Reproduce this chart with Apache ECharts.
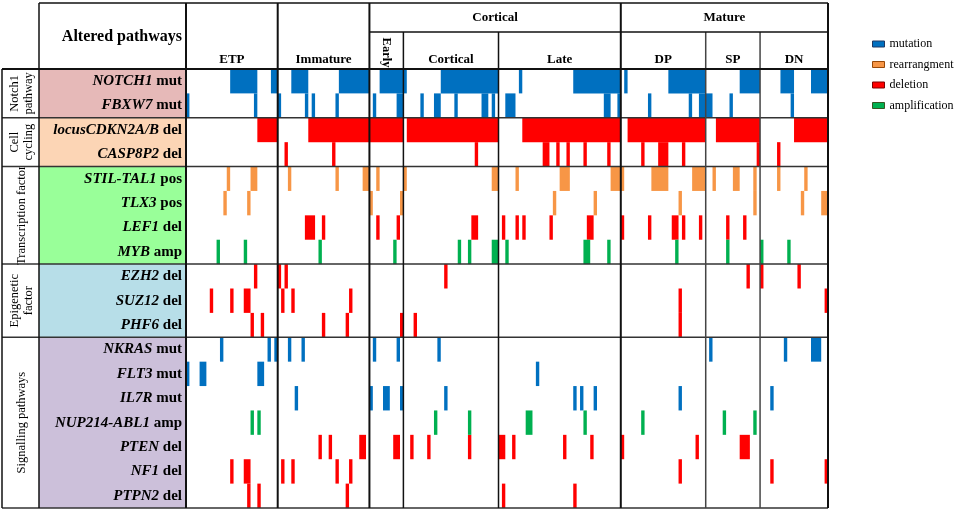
<!DOCTYPE html>
<html><head><meta charset="utf-8">
<script src="https://cdn.jsdelivr.net/npm/echarts@6/dist/echarts.min.js"></script>
<style>html,body{margin:0;padding:0;background:#fff}#c{width:957px;height:515px}</style>
</head><body><div id="c"></div><script>
// ---- categories ----
const subtypes = ['ETP','Immature','Early','Cortical','Late','DP','SP','DN'];
const subtypeSizes = [27,27,10,28,36,25,16,20];           // samples per subtype
const superGroups = ['Cortical','Mature'];
const superGroupSpans = [[2,4],[5,7]];                     // subtype index ranges
const pathways = ['Notch1\npathway','Cell\ncycling','Transcription factor','Epigenetic\nfactor','Signalling pathways'];
const pathwaySizes = [2,2,4,3,7];
const pathwayColors = ['#E6B9B8','#FCD5B5','#99FF99','#B7DEE8','#CCC0DA'];
const genes = ['NOTCH1','FBXW7','locusCDKN2A/B','CASP8P2','STIL-TAL1','TLX3','LEF1','MYB','EZH2','SUZ12','PHF6','NKRAS','FLT3','IL7R','NUP214-ABL1','PTEN','NF1','PTPN2'];
const alterationCodes = ['mut','mut','del','del','pos','pos','del','amp','del','del','del','mut','mut','mut','amp','del','del','del'];
const alterationTypes = ['mutation','rearrangment','deletion','amplification'];
const alterationColors = ['#0070C0','#F79646','#FF0000','#00B050'];
const alterationBorders = ['#1F3864','#984807','#7F0000','#375623'];
const codeToType = {mut:'mutation', pos:'rearrangment', del:'deletion', amp:'amplification'};

// ---- altered samples: [first sample, end sample) ----
const NOTCH1_mut = [[13,21],[25,27],[31,36],[45,54],[57,65],[75,92],[98,99],[114,128],[129,130],[142,153],[163,169],[175,179],[184,189]];
const FBXW7_mut = [[0,1],[20,21],[27,28],[35,36],[37,38],[44,45],[55,56],[62,64],[69,70],[73,75],[79,80],[87,89],[90,91],[94,97],[123,125],[127,128],[136,137],[148,149],[151,155],[160,161],[178,179]];
const CDKN2AB_del = [[21,27],[36,64],[65,92],[99,128],[130,153],[156,169],[179,189]];
const CASP8P2_del = [[29,30],[43,44],[85,86],[105,107],[109,110],[112,113],[117,118],[124,125],[134,135],[139,142],[146,147],[168,169],[174,175]];
const STIL_TAL1_pos = [[12,13],[19,21],[30,31],[44,45],[52,54],[56,57],[64,65],[90,92],[97,98],[110,113],[125,129],[137,142],[149,153],[155,156],[161,163],[167,168],[174,175],[182,183]];
const TLX3_pos = [[11,12],[18,19],[54,55],[63,64],[108,109],[120,121],[145,146],[167,168],[181,182],[187,189]];
const LEF1_del = [[35,38],[40,41],[56,57],[62,63],[84,86],[93,94],[97,98],[99,100],[107,108],[118,120],[128,129],[136,137],[143,145],[146,147],[151,152],[159,160],[164,165]];
const MYB_amp = [[9,10],[17,18],[39,40],[61,62],[80,81],[83,84],[90,92],[94,95],[117,119],[124,125],[144,145],[159,160],[169,170],[177,178]];
const EZH2_del = [[20,21],[27,28],[29,30],[76,77],[165,166],[169,170],[180,181]];
const SUZ12_del = [[7,8],[13,14],[17,19],[28,29],[31,32],[48,49],[145,146],[188,189]];
const PHF6_del = [[19,20],[22,23],[40,41],[47,48],[63,64],[67,68],[145,146]];
const NKRAS_mut = [[10,11],[24,25],[26,27],[30,31],[34,35],[55,56],[62,63],[74,75],[154,155],[176,177],[184,187]];
const FLT3_mut = [[0,1],[4,6],[21,23],[103,104]];
const IL7R_mut = [[32,33],[54,55],[58,60],[63,64],[76,77],[114,115],[116,117],[120,121],[145,146],[172,173]];
const NUP214_ABL1_amp = [[19,20],[21,22],[73,74],[83,84],[100,102],[117,118],[134,135],[158,159],[167,168]];
const PTEN_del = [[39,40],[42,43],[51,53],[61,63],[66,67],[71,72],[83,84],[92,94],[96,97],[111,112],[119,120],[128,129],[150,151],[163,166]];
const NF1_del = [[13,14],[17,19],[28,29],[31,32],[44,45],[48,49],[145,146],[172,173],[188,189]];
const PTPN2_del = [[18,19],[21,22],[47,48],[93,94],[114,115]];

const geneRanges = [NOTCH1_mut, FBXW7_mut, CDKN2AB_del, CASP8P2_del, STIL_TAL1_pos, TLX3_pos, LEF1_del, MYB_amp,
  EZH2_del, SUZ12_del, PHF6_del, NKRAS_mut, FLT3_mut, IL7R_mut, NUP214_ABL1_amp, PTEN_del, NF1_del, PTPN2_del];

const totalSamples = subtypeSizes.reduce((a,b)=>a+b,0);
const boundaries = [0];
subtypeSizes.forEach(s => boundaries.push(boundaries[boundaries.length-1] + s));

const FONT = 'Liberation Serif, Times New Roman, serif';

function renderBar(params, api) {
  const r = api.value(2);
  const p0 = api.coord([api.value(0), r]);
  const p1 = api.coord([api.value(1), r]);
  const h = api.size([0, 1])[1];
  return {type:'rect', shape:{x:p0[0], y:p0[1]-h/2, width:p1[0]-p0[0], height:h},
          style:{fill: api.visual('color')}};
}

function renderFrame(params, api) {
  const cs = params.coordSys;
  const L = cs.x, T = cs.y, R = cs.x + cs.width, B = cs.y + cs.height;
  const rowH = api.size([0, 1])[1];
  const X0 = 2, X1 = 39;
  const HT = T - 66, HS = T - 37;
  const fills = [], texts = [], lines = [];
  const line = (x1,y1,x2,y2,w,c) => lines.push({type:'line', shape:{x1,y1,x2,y2}, style:{stroke:c||'#111', lineWidth:w||1.5}});
  const txt = (x,y,text,rot,style) => texts.push({type:'text', x, y, rotation: rot||0,
      style: Object.assign({text, align:'center', verticalAlign:'middle', fill:'#000', fontFamily:FONT, fontSize:13, fontWeight:'bold'}, style||{})});
  // pathway blocks
  let r = 0;
  pathways.forEach((p, i) => {
    const yT = api.coord([0, r])[1] - rowH/2;
    const yB = yT + rowH * pathwaySizes[i];
    fills.push({type:'rect', shape:{x:X1, y:yT, width:L-X1, height:yB-yT}, style:{fill:pathwayColors[i]}});
    txt((X0+X1)/2+1, (yT+yB)/2, p, Math.PI/2, {fontWeight:'normal', fontSize:12.5, lineHeight:14});
    line(X0, yT, R, yT, 1.5, '#333');
    r += pathwaySizes[i];
  });
  line(X0, B, R, B, 1.5, '#333');
  // gene labels
  genes.forEach((g, i) => {
    const y = api.coord([0, i])[1];
    txt(L - 4, y, '{i|' + g + '} {b|' + alterationCodes[i] + '}', 0, {align:'right', fontSize:15,
      rich:{ i:{fontStyle:'italic', fontWeight:'bold', fontSize:15, fontFamily:FONT},
             b:{fontWeight:'bold', fontSize:15, fontFamily:FONT} }});
  });
  // header
  txt(L - 4, T - 32, 'Altered pathways', 0, {align:'right', fontSize:16});
  const bx = boundaries.map(b => api.coord([b, 0])[0]);
  const inside = j => superGroupSpans.some(s => j > s[0] && j <= s[1]);
  bx.forEach((x, j) => {
    line(x, inside(j) ? HS : HT, x, B, (j === 0 || j === bx.length-1 || !inside(j)) ? 2 : 1.5, inside(j) && j >= 6 ? '#444' : '#111');
  });
  subtypes.forEach((s, i) => {
    const xa = bx[i], xb = bx[i+1];
    if (xb - xa < 40) txt((xa+xb)/2, (HS+T)/2 + 2, s, -Math.PI/2, {fontSize:12.5});
    else txt((xa+xb)/2, T - 9, s, 0, {fontSize:13});
  });
  superGroups.forEach((g, k) => {
    const xa = bx[superGroupSpans[k][0]], xb = bx[superGroupSpans[k][1] + 1];
    txt((xa+xb)/2, (HT+HS)/2, g, 0, {fontSize:13});
    line(xa, HS, xb, HS, 1.5, '#111');
  });
  line(X1, HT, R, HT, 1.5, '#111');
  line(X0, T, R, T, 2, '#111');
  line(X1, HT, X1, B, 1.5, '#111');
  line(X0, T, X0, B, 1.5, '#111');
  return {type:'group', children: fills.concat(texts, lines)};
}

const chart = echarts.init(document.getElementById('c'), null, {renderer:'canvas'});
const barSeries = alterationTypes.map((t, ti) => ({
  type:'custom', name:t, coordinateSystem:'cartesian2d', z:2, silent:true,
  encode:{x:[0,1], y:2},
  itemStyle:{color: alterationColors[ti]},
  renderItem: renderBar,
  data: geneRanges.flatMap((rs, gi) => codeToType[alterationCodes[gi]] === t ? rs.map(q => [q[0], q[1], gi]) : [])
}));
chart.setOption({
  animation:false,
  backgroundColor:'#fff',
  grid:{left:186, top:69, width:642, height:439},
  xAxis:{type:'value', min:0, max:totalSamples, show:false},
  yAxis:{type:'category', data:genes, inverse:true, show:false},
  legend:{
    orient:'vertical', left:867, top:32, itemWidth:12, itemHeight:6, itemGap:6.5, icon:'rect',
    selectedMode:false,
    textStyle:{fontFamily:FONT, fontSize:12, color:'#000', lineHeight:14},
    data: alterationTypes.map((t, i) => ({name:t, itemStyle:{color:alterationColors[i], borderColor:alterationBorders[i], borderWidth:1}}))
  },
  series: barSeries.concat([{
    type:'custom', name:'frame', coordinateSystem:'cartesian2d', z:5, silent:true,
    encode:{x:0, y:1}, renderItem: renderFrame, data:[[0,0]]
  }])
});
</script></body></html>
